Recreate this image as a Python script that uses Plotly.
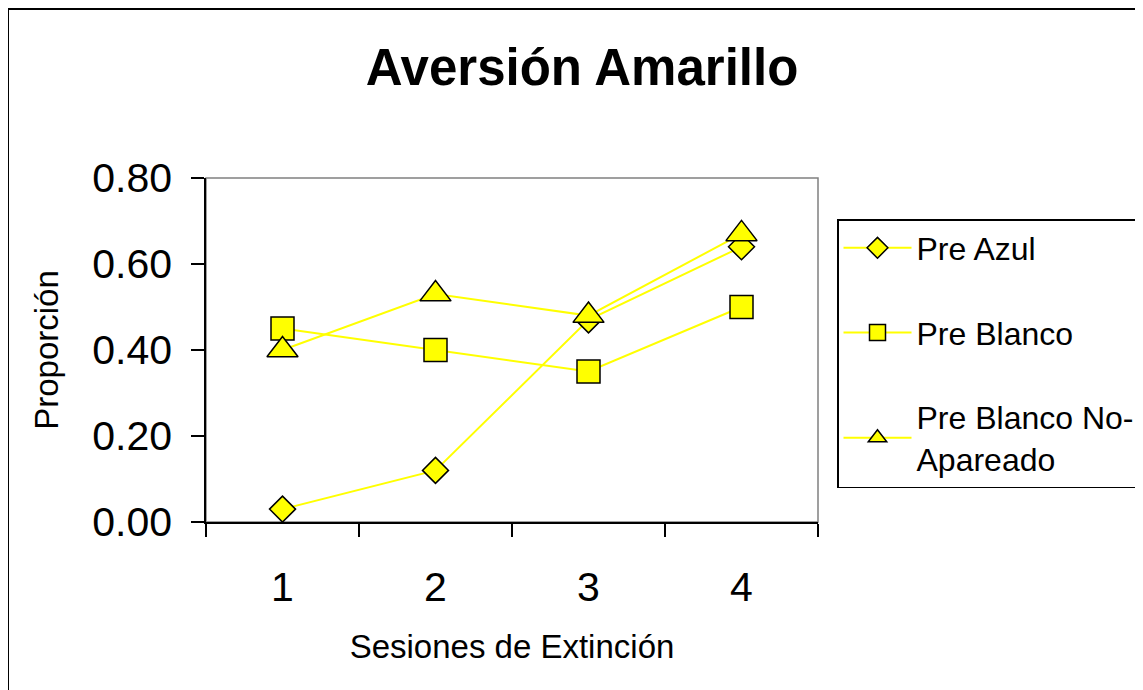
import plotly.graph_objects as go

sessions = ["1", "2", "3", "4"]
pre_azul = [0.03, 0.12, 0.47, 0.64]
pre_blanco = [0.45, 0.40, 0.35, 0.50]
pre_blanco_no = [0.40, 0.53, 0.48, 0.67]
series_names = ["Pre Azul", "Pre Blanco", "Pre Blanco No-<br>Apareado"]
symbols = ["diamond", "square", "triangle-up"]
marker_sizes = [20, 23, 27]

FONT = "Liberation Sans, Arial, sans-serif"
OFF = 8  # page body margin offset
W, H = 1143, 690
L, T = 206 - OFF, 178 - OFF
pw, ph = 612, 344
R = W - L - pw
B = H - T - ph

fig = go.Figure()
for i, (name, vals, sym, ms) in enumerate(zip(series_names, [pre_azul, pre_blanco, pre_blanco_no], symbols, marker_sizes)):
    fig.add_trace(go.Scatter(
        x=sessions, y=vals, name=name, mode="lines+markers",
        line=dict(color="#FFFF00", width=2),
        marker=dict(symbol=sym, size=ms, color="#FFFF00", line=dict(color="black", width=1.5)),
        legendgroup=f"g{i}",
    ))

def px_x(x):  # page pixel -> paper x
    return (x - OFF - L) / pw

def px_y(y):  # page pixel -> paper y
    return (H - B - (y - OFF)) / ph

shapes = [
    dict(type="rect", xref="paper", yref="paper",
         x0=px_x(8), x1=px_x(1170), y0=px_y(720), y1=px_y(9),
         line=dict(color="black", width=2), layer="below"),
    dict(type="rect", xref="paper", yref="paper", x0=0, x1=1, y0=0, y1=1,
         line=dict(color="#808080", width=1.5), layer="below"),
]

fig.update_layout(
    width=W, height=H,
    margin=dict(l=L, r=R, t=T, b=B, autoexpand=False),
    paper_bgcolor="white", plot_bgcolor="white",
    font=dict(family=FONT, color="black"),
    title=dict(text="<b>Aversión Amarillo</b>", x=(582 - OFF) / W, xanchor="center",
               y=1 - (67 - OFF) / H, yanchor="middle", font=dict(size=51, family=FONT)),
    xaxis=dict(type="category", range=[-0.5, 3.5], tickson="boundaries", ticks="outside", ticklen=13,
               tickcolor="black", tickwidth=1.5, showline=True, linecolor="black", linewidth=1.5,
               showgrid=False, tickfont=dict(size=41), ticklabelstandoff=28,
               title=dict(text="Sesiones de Extinción", font=dict(size=33), standoff=26)),
    yaxis=dict(range=[0, 0.8], dtick=0.2, tickformat=".2f", ticks="outside", ticklen=13,
               tickcolor="black", tickwidth=1.5, showline=True, linecolor="black", linewidth=1.5,
               showgrid=False, zeroline=False, tickfont=dict(size=41), ticklabelstandoff=11,
               title=dict(text="Proporción", font=dict(size=33), standoff=24)),
    legend=dict(x=px_x(837), y=px_y(219), xanchor="left", yanchor="top",
                bordercolor="black", borderwidth=1.5, bgcolor="white",
                font=dict(size=32, family=FONT), tracegroupgap=40,
                traceorder="grouped", itemwidth=68),
    shapes=shapes,
)

fig.write_html("out.html")
